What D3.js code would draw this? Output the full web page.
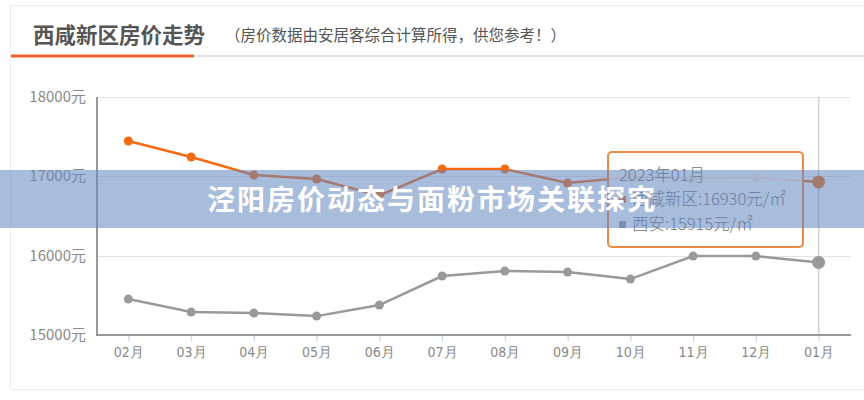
<!DOCTYPE html>
<html><head><meta charset="utf-8">
<script src="https://cdn.jsdelivr.net/npm/d3@7"></script>
<style>
html,body{margin:0;padding:0;background:#fff;}
svg{display:block;font-family:"Noto Sans CJK SC","Noto Sans",sans-serif;}
</style></head>
<body><svg id="c" width="864" height="400"></svg>
<script>
const months = ["02月","03月","04月","05月","06月","07月","08月","09月","10月","11月","12月","01月"];
const xianxin = [17445,17243,17016,16966,16760,17092,17092,16915,16990,16975,16985,16930];
const xian = [15453,15289,15276,15238,15377,15743,15806,15793,15705,15995,15995,15915];
const yTicks = [15000,16000,17000,18000];
const seriesNames = ["西咸新区","西安"];
const title = "西咸新区房价走势";
const subtitle = "（房价数据由安居客综合计算所得，供您参考！）";
const tipTitle = "2023年01月";
const banner = "泾阳房价动态与面粉市场关联探究";

const svg = d3.select("#c");
const x = d3.scalePoint().domain(months).range([97,850]).padding(0.5);
const y = d3.scaleLinear().domain([15000,18000]).range([335,97]);

// frame
svg.append("rect").attr("x",10.5).attr("y",5.5).attr("width",860).attr("height",384)
  .attr("fill","none").attr("stroke","#ebebeb");
svg.append("line").attr("x1",194).attr("x2",864).attr("y1",56).attr("y2",56).attr("stroke","#e2e2e2").attr("stroke-width",2);
svg.append("line").attr("x1",11).attr("x2",194).attr("y1",56).attr("y2",56).attr("stroke","#f0622a").attr("stroke-width",3);
svg.append("text").attr("x",33).attr("y",43).attr("font-size",21.5).attr("font-weight","bold").attr("fill","#555").text(title);
svg.append("text").attr("x",225).attr("y",41).attr("font-size",15.5).attr("fill","#555").text(subtitle);

// grid
svg.append("g").selectAll("line").data(yTicks).join("line")
  .attr("x1",97).attr("x2",851).attr("y1",d=>Math.round(y(d))+0.5).attr("y2",d=>Math.round(y(d))+0.5)
  .attr("stroke","#e3e3e3");
svg.append("g").selectAll("text").data(yTicks).join("text")
  .attr("x",86).attr("y",d=>y(d)+5).attr("text-anchor","end").attr("font-size",15).attr("fill","#8a8a8a")
  .text(d=>d+"元");

// crosshair
svg.append("line").attr("x1",x("01月")).attr("x2",x("01月")).attr("y1",97).attr("y2",335).attr("stroke","#cfcfcf").attr("stroke-width",1.5);

// x axis
const xa = svg.append("g").attr("transform","translate(0,335)").call(d3.axisBottom(x).tickSize(6).tickPadding(6));
xa.select(".domain").remove();
xa.selectAll("line").attr("stroke","#b9cfe6");
xa.selectAll("text").attr("font-size",14).attr("fill","#888").attr("font-family","'Liberation Sans Narrow','DejaVu Sans Condensed',sans-serif");
svg.append("line").attr("x1",97).attr("x2",851).attr("y1",335).attr("y2",335).attr("stroke","#999").attr("stroke-width",2);
svg.append("line").attr("x1",97).attr("x2",97).attr("y1",97).attr("y2",336).attr("stroke","#999").attr("stroke-width",2);

const line = d3.line().x((d,i)=>x(months[i])).y(d=>y(d));
function drawSeries(vals,color){
  svg.append("path").datum(vals).attr("d",line).attr("fill","none").attr("stroke",color).attr("stroke-width",2.5);
  svg.append("g").selectAll("circle").data(vals).join("circle")
    .attr("cx",(d,i)=>x(months[i])).attr("cy",d=>y(d)).attr("r",(d,i)=>i===vals.length-1?6.5:4.5).attr("fill",color);
}
drawSeries(xian,"#999999");
drawSeries(xianxin,"#f66a10");

// tooltip
const tg = svg.append("g");
tg.append("rect").attr("x",608).attr("y",152).attr("width",195).attr("height",95).attr("rx",4)
  .attr("fill","rgba(255,255,255,0.85)").attr("stroke","#ec8a45").attr("stroke-width",2);
tg.append("text").attr("x",619).attr("y",181).attr("font-size",16.5).attr("font-weight",300).attr("fill","#707070").text(tipTitle);
const tipVals = [xianxin[xianxin.length-1], xian[xian.length-1]];
const tipColors = ["#f66a10","#999"];
tipVals.forEach((v,i)=>{
  tg.append("rect").attr("x",619).attr("y",196+i*25).attr("width",7).attr("height",7).attr("fill",tipColors[i]);
  tg.append("text").attr("x",632).attr("y",205+i*25).attr("font-size",16.5).attr("font-weight",300).attr("fill","#707070")
    .text(seriesNames[i]+":"+v+"元/㎡");
});

// banner overlay
svg.append("rect").attr("x",0).attr("y",170).attr("width",864).attr("height",58)
  .attr("fill","rgb(100,135,190)").attr("fill-opacity",0.56);
svg.append("text").attr("x",432).attr("y",210).attr("text-anchor","middle").attr("font-size",28)
  .attr("font-weight","bold").attr("fill","#fff").attr("letter-spacing",2).text(banner);
</script></body></html>
